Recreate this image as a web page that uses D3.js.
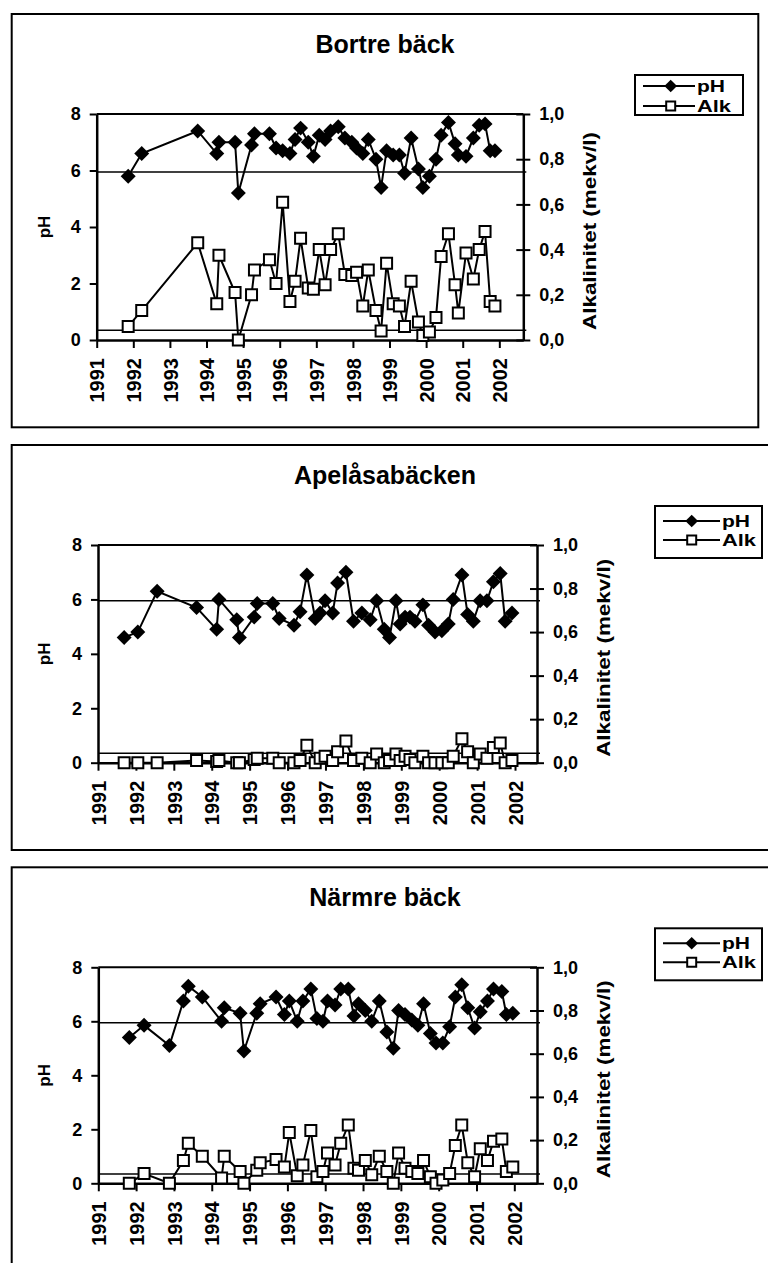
<!DOCTYPE html>
<html>
<head>
<meta charset="utf-8">
<script src="https://cdn.jsdelivr.net/npm/d3@7"></script>
<style>
  body { margin: 0; background: #fff; }
  text { font-family: "Liberation Sans", Arial, sans-serif; font-weight: bold; fill: #000; }
</style>
</head>
<body>
<div id="chart"></div>
<script>
// tick values
const yearTicks = d3.range(1991, 2003)
const phTicks = [0, 2, 4, 6, 8]
const alkTicks = [0, 0.2, 0.4, 0.6, 0.8, 1.0]
const refPH = 5.95
const refAlk = 0.043
const titles = ["Bortre bäck", "Apelåsabäcken", "Närmre bäck"]
const legendNames = ["pH", "Alk"]

// Bortre bäck (decimal year, pH, alkalinitet mekv/l)
const bortreDates = [1991.86, 1992.23, 1993.76, 1994.28, 1994.34, 1994.78, 1994.87, 1995.23, 1995.31, 1995.72,
  1995.90, 1996.08, 1996.28, 1996.42, 1996.57, 1996.78, 1996.92, 1997.08, 1997.24, 1997.39,
  1997.60, 1997.78, 1997.97, 1998.10, 1998.27, 1998.42, 1998.63, 1998.77, 1998.92, 1999.10,
  1999.27, 1999.41, 1999.59, 1999.79, 1999.91, 2000.09, 2000.27, 2000.41, 2000.61, 2000.79,
  2000.88, 2001.09, 2001.29, 2001.45, 2001.61, 2001.75, 2001.88]
const bortrePH = [5.8, 6.6, 7.4, 6.6, 7.0, 7.0, 5.2, 6.9, 7.3, 7.3,
  6.8, 6.7, 6.6, 7.1, 7.5, 7.0, 6.5, 7.25, 7.1, 7.4,
  7.55, 7.15, 7.0, 6.8, 6.6, 7.1, 6.4, 5.4, 6.7, 6.55,
  6.55, 5.9, 7.15, 6.05, 5.4, 5.8, 6.4, 7.25, 7.7, 6.95,
  6.55, 6.5, 7.15, 7.6, 7.65, 6.7, 6.7]
const bortreAlk = [0.06, 0.13, 0.43, 0.16, 0.375, 0.21, 0, 0.2, 0.31, 0.355,
  0.25, 0.61, 0.17, 0.26, 0.45, 0.23, 0.225, 0.4, 0.245, 0.4,
  0.47, 0.29, 0.285, 0.3, 0.15, 0.31, 0.13, 0.04, 0.34, 0.16,
  0.15, 0.06, 0.26, 0.08, 0.02, 0.035, 0.1, 0.37, 0.47, 0.245,
  0.12, 0.385, 0.27, 0.4, 0.48, 0.17, 0.15]

// Apelåsabäcken
const apelDates = [1991.69, 1992.05, 1992.56, 1993.60, 1994.13, 1994.19, 1994.66, 1994.73, 1995.12, 1995.20,
  1995.61, 1995.78, 1996.17, 1996.33, 1996.51, 1996.73, 1996.86, 1996.99, 1997.19, 1997.32,
  1997.54, 1997.74, 1997.96, 1998.18, 1998.35, 1998.55, 1998.69, 1998.86, 1998.97, 1999.10,
  1999.23, 1999.36, 1999.57, 1999.72, 1999.89, 2000.07, 2000.24, 2000.37, 2000.60, 2000.75,
  2000.90, 2001.08, 2001.26, 2001.43, 2001.61, 2001.74, 2001.92]
const apelPH = [4.6, 4.8, 6.3, 5.7, 4.9, 6.0, 5.25, 4.6, 5.35, 5.85,
  5.85, 5.3, 5.05, 5.55, 6.9, 5.3, 5.5, 5.95, 5.5, 6.6,
  7.0, 5.2, 5.5, 5.25, 5.95, 4.9, 4.6, 5.95, 5.1, 5.35,
  5.35, 5.2, 5.8, 5.05, 4.8, 4.85, 5.1, 6.0, 6.9, 5.45,
  5.2, 5.95, 5.95, 6.65, 6.95, 5.2, 5.5]
const apelAlk = [0, 0, 0, 0.01, 0.005, 0.01, 0, 0, 0.015, 0.02,
  0.02, 0, 0, 0.01, 0.08, 0, 0.02, 0.03, 0.01, 0.05,
  0.1, 0.01, 0.02, 0, 0.04, 0, 0.01, 0.04, 0.01, 0.03,
  0.015, 0, 0.03, 0, 0, 0, 0, 0.03, 0.11, 0.05,
  0, 0.04, 0.02, 0.07, 0.09, 0, 0.01]

// Närmre bäck
const narmreDates = [1991.82, 1992.21, 1992.88, 1993.25, 1993.38, 1993.75, 1994.26, 1994.33, 1994.75, 1994.85,
  1995.19, 1995.28, 1995.70, 1995.92, 1996.05, 1996.26, 1996.41, 1996.62, 1996.78, 1996.94,
  1997.06, 1997.26, 1997.41, 1997.61, 1997.76, 1997.88, 1998.06, 1998.23, 1998.43, 1998.63,
  1998.80, 1998.94, 1999.11, 1999.29, 1999.45, 1999.60, 1999.78, 1999.93, 2000.11, 2000.29,
  2000.44, 2000.61, 2000.77, 2000.95, 2001.10, 2001.29, 2001.45, 2001.67, 2001.79, 2001.96]
const narmrePH = [5.4, 5.85, 5.1, 6.75, 7.3, 6.9, 6.0, 6.5, 6.3, 4.9,
  6.3, 6.65, 6.9, 6.25, 6.75, 6.0, 6.75, 7.2, 6.1, 6.0,
  6.75, 6.6, 7.2, 7.2, 6.2, 6.65, 6.4, 6.0, 6.75, 5.6,
  5.0, 6.4, 6.25, 6.05, 5.85, 6.65, 5.55, 5.2, 5.2, 5.8,
  6.9, 7.35, 6.5, 5.75, 6.35, 6.75, 7.2, 7.1, 6.25, 6.3]
const narmreAlk = [0, 0.045, 0, 0.105, 0.185, 0.125, 0.025, 0.125, 0.055, 0,
  0.06, 0.095, 0.11, 0.075, 0.235, 0.035, 0.085, 0.245, 0.03, 0.055,
  0.14, 0.085, 0.185, 0.27, 0.07, 0.06, 0.105, 0.04, 0.125, 0.055,
  0, 0.14, 0.07, 0.055, 0.045, 0.105, 0.03, 0, 0.015, 0.045,
  0.175, 0.27, 0.095, 0.03, 0.16, 0.105, 0.195, 0.205, 0.055, 0.075]

const series = [
  { dates: bortreDates, ph: bortrePH, alk: bortreAlk },
  { dates: apelDates, ph: apelPH, alk: apelAlk },
  { dates: narmreDates, ph: narmrePH, alk: narmreAlk }
]

// layout of each panel (pixels)
const layouts = [
  { box: [11.7, 14, 758.3, 427.3], left: 96.7, right: 523.3, top: 114, bottom: 340, xMax: 2002.655, titleY: 53,
    legend: { x: 635, y: 75, w: 108, h: 40, r1: 11, r2: 31, l0: 8, l1: 60, mx: 35.7, tx: 62 }, alkLabelX: 596 },
  { box: [11.7, 445, 775, 850], left: 98, right: 537, top: 545, bottom: 762.7, xMax: 2002.58, titleY: 484,
    legend: { x: 655, y: 506, w: 107, h: 52, r1: 15, r2: 34, l0: 8, l1: 65, mx: 36.7, tx: 67 }, alkLabelX: 610 },
  { box: [11.7, 867.3, 775, 1275], left: 98.3, right: 537, top: 967.3, bottom: 1183.3, xMax: 2002.6, titleY: 906,
    legend: { x: 655, y: 928.3, w: 107, h: 52, r1: 15, r2: 34, l0: 8, l1: 65, mx: 36.7, tx: 67 }, alkLabelX: 610 }
]

const width = 768
const height = 1263

const svg = d3.select("#chart")
  .append("svg")
  .attr("width", width)
  .attr("height", height)

svg.append("rect").attr("width", width).attr("height", height).attr("fill", "#fff")

const diamond = d3.symbol().type(d3.symbolSquare).size(112)
const square = d3.symbol().type(d3.symbolSquare).size(121)
const commaFmt = d => d3.format(".1f")(d).replace(".", ",")

layouts.forEach((L, i) => {
  const s = series[i]
  const data = s.dates.map((d, j) => ({ date: d, ph: s.ph[j], alk: s.alk[j] }))
  const g = svg.append("g")

  const x = d3.scaleLinear().domain([1991, L.xMax]).range([L.left, L.right])
  const y = d3.scaleLinear().domain([0, 8]).range([L.bottom, L.top])
  const y2 = d3.scaleLinear().domain([0, 1]).range([L.bottom, L.top])

  // outer frame
  g.append("rect")
    .attr("x", L.box[0]).attr("y", L.box[1])
    .attr("width", L.box[2] - L.box[0]).attr("height", L.box[3] - L.box[1])
    .attr("fill", "none").attr("stroke", "#000").attr("stroke-width", 2)

  g.append("text")
    .attr("x", 385).attr("y", L.titleY)
    .attr("text-anchor", "middle")
    .attr("font-size", 25)
    .text(titles[i])

  // plot top border
  g.append("line")
    .attr("x1", L.left).attr("x2", L.right)
    .attr("y1", L.top).attr("y2", L.top)
    .attr("stroke", "#000").attr("stroke-width", 2)

  // reference lines
  g.append("line")
    .attr("x1", L.left).attr("x2", L.right + 3)
    .attr("y1", y(refPH)).attr("y2", y(refPH))
    .attr("stroke", "#000").attr("stroke-width", 1.5)
  g.append("line")
    .attr("x1", L.left).attr("x2", L.right + 3)
    .attr("y1", y2(refAlk)).attr("y2", y2(refAlk))
    .attr("stroke", "#000").attr("stroke-width", 1.5)

  // axes
  const yAxis = g.append("g")
    .attr("transform", `translate(${L.left},0)`)
    .call(d3.axisLeft(y).tickValues(phTicks).tickSizeInner(7).tickSizeOuter(0).tickPadding(9).tickFormat(d3.format("d")))
  const y2Axis = g.append("g")
    .attr("transform", `translate(${L.right},0)`)
    .call(d3.axisRight(y2).tickValues(alkTicks).tickSizeInner(7).tickSizeOuter(0).tickPadding(9).tickFormat(commaFmt))
  y2Axis.selectAll(".tick line").attr("x1", -7)
  const xAxis = g.append("g")
    .attr("transform", `translate(0,${L.bottom})`)
    .call(d3.axisBottom(x).tickValues(yearTicks).tickSizeInner(8).tickSizeOuter(0).tickFormat(d3.format("d")))
  xAxis.selectAll(".tick text")
    .attr("transform", "rotate(-90)")
    .attr("text-anchor", "end")
    .attr("x", -18)
    .attr("y", 0)
    .attr("dy", "0.36em")
    .attr("font-size", 20)

  ;[yAxis, y2Axis, xAxis].forEach(a => {
    a.attr("font-family", null).attr("font-size", null)
    a.select(".domain").attr("stroke-width", 2.5)
    a.selectAll(".tick line").attr("stroke-width", 2)
  })
  yAxis.selectAll(".tick text").attr("font-size", 18)
  y2Axis.selectAll(".tick text").attr("font-size", 18)

  // axis titles
  g.append("text")
    .attr("transform", `translate(50,${(L.top + L.bottom) / 2}) rotate(-90)`)
    .attr("text-anchor", "middle")
    .attr("font-size", 17)
    .text("pH")
  g.append("text")
    .attr("transform", `translate(${L.alkLabelX},${(L.top + L.bottom) / 2 + 4}) rotate(-90)`)
    .attr("text-anchor", "middle")
    .attr("font-size", 19)
    .attr("textLength", 198)
    .attr("lengthAdjust", "spacingAndGlyphs")
    .text("Alkalinitet (mekv/l)")

  // pH series
  g.append("path")
    .datum(data)
    .attr("fill", "none").attr("stroke", "#000").attr("stroke-width", 2)
    .attr("d", d3.line().x(d => x(d.date)).y(d => y(d.ph)))
  g.selectAll("path.ph")
    .data(data)
    .join("path")
    .attr("class", "ph")
    .attr("d", diamond)
    .attr("transform", d => `translate(${x(d.date)},${y(d.ph)}) rotate(45)`)
    .attr("fill", "#000")

  // alkalinity series
  g.append("path")
    .datum(data)
    .attr("fill", "none").attr("stroke", "#000").attr("stroke-width", 2)
    .attr("d", d3.line().x(d => x(d.date)).y(d => y2(d.alk)))
  g.selectAll("path.alk")
    .data(data)
    .join("path")
    .attr("class", "alk")
    .attr("d", square)
    .attr("transform", d => `translate(${x(d.date)},${y2(d.alk)})`)
    .attr("fill", "#fff").attr("stroke", "#000").attr("stroke-width", 2)

  // legend
  const lg = g.append("g").attr("transform", `translate(${L.legend.x},${L.legend.y})`)
  lg.append("rect")
    .attr("width", L.legend.w).attr("height", L.legend.h)
    .attr("fill", "#fff").attr("stroke", "#000").attr("stroke-width", 2)
  ;[L.legend.r1, L.legend.r2].forEach((ry, k) => {
    lg.append("line")
      .attr("x1", L.legend.l0).attr("x2", L.legend.l1)
      .attr("y1", ry).attr("y2", ry)
      .attr("stroke", "#000").attr("stroke-width", 2)
    lg.append("path")
      .attr("d", k === 0 ? d3.symbol().type(d3.symbolSquare).size(80)() : d3.symbol().type(d3.symbolSquare).size(81)())
      .attr("transform", `translate(${L.legend.mx},${ry})` + (k === 0 ? " rotate(45)" : ""))
      .attr("fill", k === 0 ? "#000" : "#fff")
      .attr("stroke", "#000").attr("stroke-width", k === 0 ? 0 : 2)
    lg.append("text")
      .attr("x", L.legend.tx).attr("y", ry + 6)
      .attr("font-size", 16)
      .attr("textLength", k === 0 ? 28 : 34)
      .attr("lengthAdjust", "spacingAndGlyphs")
      .text(legendNames[k])
  })
})
</script>
</body>
</html>
